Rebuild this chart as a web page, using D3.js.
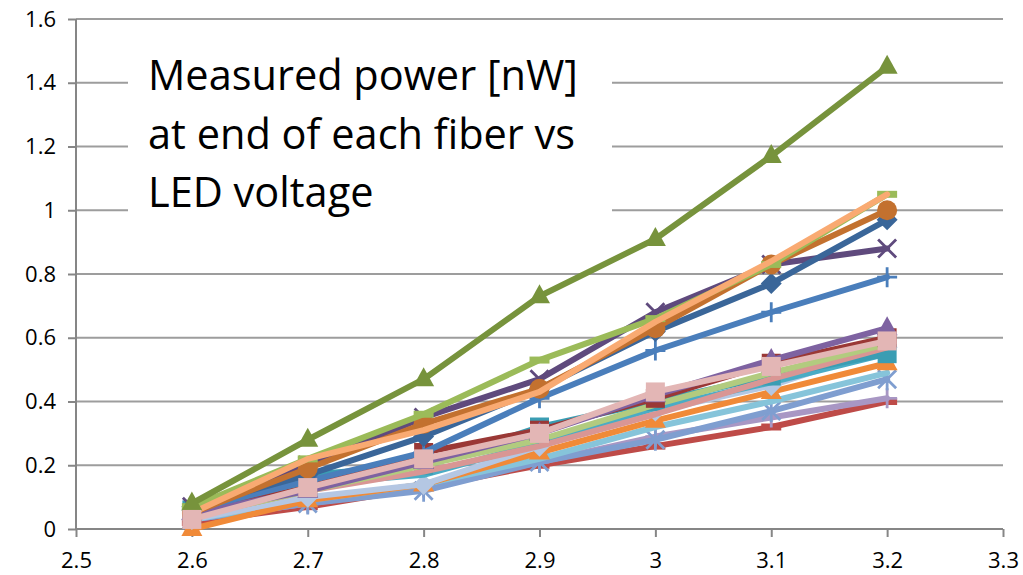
<!DOCTYPE html>
<html><head><meta charset="utf-8">
<script src="https://cdn.jsdelivr.net/npm/d3@7"></script>
<style>body{margin:0;background:#fff}</style>
</head><body><svg id="c" width="1023" height="575"></svg>
<script>
// ---- data ----
const voltages = [2.6, 2.7, 2.8, 2.9, 3.0, 3.1, 3.2];
const xTickValues = [2.5, 2.6, 2.7, 2.8, 2.9, 3.0, 3.1, 3.2, 3.3];
const yTickValues = [0, 0.2, 0.4, 0.6, 0.8, 1.0, 1.2, 1.4, 1.6];
const titleLines = ["Measured power [nW]", "at end of each fiber vs", "LED voltage"];

const fiberRed      = [0.02, 0.07, 0.13, 0.20, 0.26, 0.32, 0.40];
const fiberLPurple  = [0.03, 0.08, 0.13, 0.21, 0.29, 0.35, 0.41];
const fiberLavBlue  = [0.03, 0.08, 0.12, 0.21, 0.28, 0.37, 0.47];
const fiberLAqua    = [0.03, 0.09, 0.14, 0.22, 0.32, 0.40, 0.49];
const fiberOrange   = [0.00, 0.09, 0.14, 0.24, 0.34, 0.43, 0.52];
const fiberLBlue    = [0.03, 0.10, 0.14, 0.26, 0.37, 0.45, 0.57];
const fiberAqua     = [0.04, 0.14, 0.17, 0.27, 0.38, 0.46, 0.55];
const fiberTeal     = [0.06, 0.17, 0.20, 0.32, 0.40, 0.48, 0.55];
const fiberRose     = [0.04, 0.12, 0.18, 0.26, 0.36, 0.47, 0.57];
const fiberLGreen2  = [0.04, 0.12, 0.20, 0.28, 0.39, 0.49, 0.58];
const fiberDRed     = [0.05, 0.13, 0.24, 0.31, 0.41, 0.52, 0.60];
const fiberPurple   = [0.05, 0.12, 0.21, 0.30, 0.42, 0.53, 0.63];
const fiberBlue     = [0.06, 0.15, 0.24, 0.41, 0.56, 0.68, 0.79];
const fiberDPurple  = [0.07, 0.20, 0.35, 0.47, 0.68, 0.83, 0.88];
const fiberDBlue    = [0.07, 0.17, 0.29, 0.44, 0.62, 0.77, 0.97];
const fiberBrown    = [0.05, 0.19, 0.33, 0.44, 0.63, 0.83, 1.00];
const fiberLGreen   = [0.07, 0.22, 0.36, 0.53, 0.66, 0.83, 1.05];
const fiberLOrange  = [0.05, 0.22, 0.31, 0.43, 0.65, 0.84, 1.05];
const fiberOlive    = [0.08, 0.28, 0.47, 0.73, 0.91, 1.17, 1.45];
const fiberPink     = [0.03, 0.13, 0.22, 0.30, 0.43, 0.51, 0.59];

// ---- styles (kept apart from data) ----
const seriesList = [
  {v: fiberRed,     c: "#BE4B48", m: "dash"},
  {v: fiberLPurple, c: "#A897C4", m: "plus"},
  {v: fiberLavBlue, c: "#7F9ED0", m: "star"},
  {v: fiberLAqua,   c: "#86C4DA", m: "none"},
  {v: fiberOrange,  c: "#F08A38", m: "triangle"},
  {v: fiberLBlue,   c: "#B4C7E3", m: "diamond"},
  {v: fiberAqua,    c: "#4AACC5", m: "none"},
  {v: fiberTeal,    c: "#3A9DB3", m: "square"},
  {v: fiberRose,    c: "#D99694", m: "none"},
  {v: fiberLGreen2, c: "#B2CB7F", m: "none"},
  {v: fiberDRed,    c: "#9A3836", m: "square"},
  {v: fiberPurple,  c: "#7E62A1", m: "triangle"},
  {v: fiberBlue,    c: "#4A7EBB", m: "plus"},
  {v: fiberDPurple, c: "#5F4A7D", m: "x"},
  {v: fiberDBlue,   c: "#3A6699", m: "diamond"},
  {v: fiberBrown,   c: "#C3712F", m: "circle"},
  {v: fiberLGreen,  c: "#9BBB59", m: "dash"},
  {v: fiberLOrange, c: "#F9AA72", m: "none"},
  {v: fiberOlive,   c: "#77933C", m: "triangle"},
  {v: fiberPink,    c: "#E3B6B5", m: "square"}
];

const svg = d3.select("#c");
const x = d3.scaleLinear().domain([2.5, 3.3]).range([76, 1003]);
const y = d3.scaleLinear().domain([0, 1.6]).range([529, 19]);
const font = "'Open Sans', 'Liberation Sans', sans-serif";

// gridlines
svg.append("g").selectAll("line").data(yTickValues.slice(1)).join("line")
  .attr("x1", x(2.5)).attr("x2", x(3.3))
  .attr("y1", d => y(d)).attr("y2", d => y(d))
  .attr("stroke", "#9D9D9D").attr("stroke-width", 2);

// text box
svg.append("rect").attr("x", 128).attr("y", 36).attr("width", 484).attr("height", 196).attr("fill", "#fff");
svg.append("g").selectAll("text").data(titleLines).join("text")
  .attr("x", 148).attr("y", (d, i) => 90 + i * 58.5)
  .attr("font-family", font).attr("font-size", 41.5).attr("fill", "#000")
  .text(d => d);

// axes
const yAxis = svg.append("g").attr("transform", `translate(${x(2.5)},0)`)
  .call(d3.axisLeft(y).tickValues(yTickValues).tickSize(8).tickPadding(12)
    .tickFormat(d => d3.format("~g")(d)));
const xAxis = svg.append("g").attr("transform", `translate(0,${y(0)})`)
  .call(d3.axisBottom(x).tickValues(xTickValues).tickSize(8).tickPadding(15)
    .tickFormat(d => d3.format("~g")(d)));
[yAxis, xAxis].forEach(a => {
  a.selectAll("path,line").attr("stroke", "#868686").attr("stroke-width", 2);
  a.selectAll("text").attr("font-family", font).attr("font-size", 22).attr("fill", "#000");
});
yAxis.select(".domain").attr("d", `M0,${y(1.6)}V${y(0)}`);
xAxis.select(".domain").attr("d", `M${x(2.5)},0H${x(3.3)}`);

// series
const line = d3.line().x((d, i) => x(voltages[i])).y(d => y(d));
function markerPath(m) {
  switch (m) {
    case "square": return `M-9.5,-9.5H9.5V9.5H-9.5Z`;
    case "diamond": return `M0,-10.5L10.5,0L0,10.5L-10.5,0Z`;
    case "triangle": return `M0,-12L10.5,7L-10.5,7Z`;
    case "dash": return `M-10,-3.5H10V3.5H-10Z`;
    case "x": return `M-9,-9L9,9M9,-9L-9,9`;
    case "plus": return `M-10,0H10M0,-10V10`;
    case "star": return `M-9,-9L9,9M9,-9L-9,9M0,-11V11`;
    default: return "";
  }
}
seriesList.forEach(s => {
  const g = svg.append("g");
  g.append("path").attr("d", line(s.v)).attr("fill", "none")
    .attr("stroke", s.c).attr("stroke-width", 6)
    .attr("stroke-linejoin", "round").attr("stroke-linecap", "round");
  if (s.m === "none") return;
  const pts = g.selectAll(".mk").data(s.v).join(s.m === "circle" ? "circle" : "path")
    .attr("transform", (d, i) => `translate(${x(voltages[i])},${y(d)})`);
  if (s.m === "circle") {
    pts.attr("r", 10).attr("fill", s.c);
  } else if (["x", "plus", "star"].includes(s.m)) {
    pts.attr("d", markerPath(s.m)).attr("fill", "none").attr("stroke", s.c).attr("stroke-width", 2.8);
  } else {
    pts.attr("d", markerPath(s.m)).attr("fill", s.c);
  }
});
</script></body></html>
